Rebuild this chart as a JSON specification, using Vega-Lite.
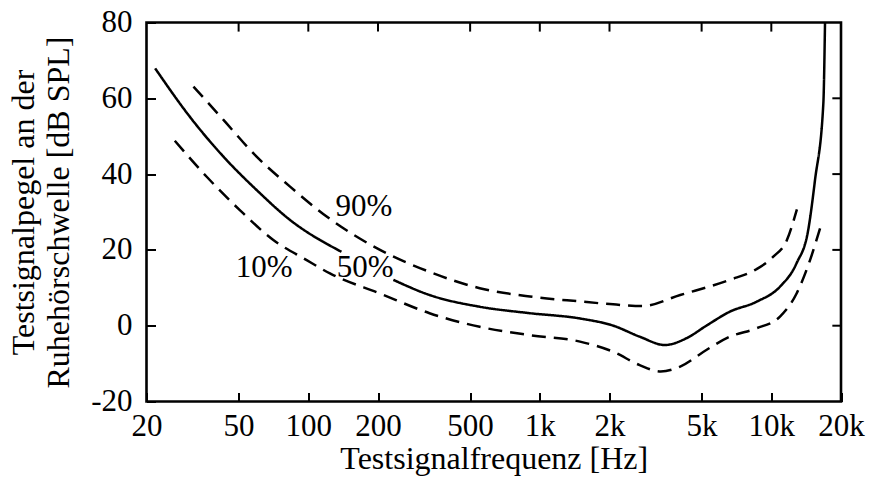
{
  "$schema": "https://vega.github.io/schema/vega-lite/v6.json",
  "width": 694.5,
  "height": 379,
  "autosize": {"type": "none"},
  "padding": {"left": 146.5, "top": 22.5, "right": 28, "bottom": 82.5},
  "background": "white",
  "config": {
    "font": "Liberation Serif",
    "view": {"stroke": "black", "strokeWidth": 2.6},
    "axis": {"labelFont": "Liberation Serif", "titleFont": "Liberation Serif", "labelColor": "black", "titleColor": "black", "labelFontSize": 31, "titleFontSize": 32, "titleFontWeight": "normal", "grid": false, "domain": false}
  },
  "datasets": {
    "curves": [
      {"f": 21.8, "y": 67.9, "seg": "50a"},
      {"f": 30.8, "y": 55.1, "seg": "50a"},
      {"f": 43, "y": 44.6, "seg": "50a"},
      {"f": 59.8, "y": 35.8, "seg": "50a"},
      {"f": 83.4, "y": 27.9, "seg": "50a"},
      {"f": 139, "y": 19.5, "seg": "50a"},
      {"f": 233, "y": 12.1, "seg": "50b"},
      {"f": 334, "y": 8.1, "seg": "50b"},
      {"f": 550, "y": 5.0, "seg": "50b"},
      {"f": 906, "y": 3.3, "seg": "50b"},
      {"f": 1492, "y": 1.9, "seg": "50b"},
      {"f": 2078, "y": 0.0, "seg": "50b"},
      {"f": 2700, "y": -2.9, "seg": "50b"},
      {"f": 3476, "y": -5.1, "seg": "50b"},
      {"f": 4300, "y": -3.3, "seg": "50b"},
      {"f": 5240, "y": 0.0, "seg": "50b"},
      {"f": 6620, "y": 3.7, "seg": "50b"},
      {"f": 8620, "y": 6.3, "seg": "50b"},
      {"f": 10900, "y": 10.3, "seg": "50b"},
      {"f": 12860, "y": 16.5, "seg": "50b"},
      {"f": 14440, "y": 25.3, "seg": "50b"},
      {"f": 15440, "y": 38.4, "seg": "50b"},
      {"f": 16780, "y": 58.7, "seg": "50b"},
      {"f": 17060, "y": 80, "seg": "50b"},
      {"f": 31.9, "y": 63.1, "seg": "90"},
      {"f": 43, "y": 54.3, "seg": "90"},
      {"f": 59.8, "y": 44.6, "seg": "90"},
      {"f": 83.4, "y": 36.7, "seg": "90"},
      {"f": 120, "y": 28.8, "seg": "90"},
      {"f": 204, "y": 20.0, "seg": "90"},
      {"f": 334, "y": 14.2, "seg": "90"},
      {"f": 550, "y": 9.9, "seg": "90"},
      {"f": 906, "y": 7.7, "seg": "90"},
      {"f": 1492, "y": 6.4, "seg": "90"},
      {"f": 2008, "y": 5.7, "seg": "90"},
      {"f": 2790, "y": 5.2, "seg": "90"},
      {"f": 4040, "y": 8.1, "seg": "90"},
      {"f": 6620, "y": 12.1, "seg": "90"},
      {"f": 8620, "y": 14.9, "seg": "90"},
      {"f": 10200, "y": 18.2, "seg": "90"},
      {"f": 11680, "y": 22.6, "seg": "90"},
      {"f": 12900, "y": 30.7, "seg": "90"},
      {"f": 26.5, "y": 48.8, "seg": "10"},
      {"f": 36.4, "y": 39.3, "seg": "10"},
      {"f": 50.6, "y": 30.5, "seg": "10"},
      {"f": 70.6, "y": 22.6, "seg": "10"},
      {"f": 98.4, "y": 17.3, "seg": "10"},
      {"f": 124, "y": 13.8, "seg": "10"},
      {"f": 204, "y": 8.5, "seg": "10"},
      {"f": 334, "y": 3.3, "seg": "10"},
      {"f": 550, "y": -0.3, "seg": "10"},
      {"f": 906, "y": -2.5, "seg": "10"},
      {"f": 1492, "y": -4.2, "seg": "10"},
      {"f": 2078, "y": -6.9, "seg": "10"},
      {"f": 2700, "y": -10.4, "seg": "10"},
      {"f": 3330, "y": -12.1, "seg": "10"},
      {"f": 4040, "y": -10.8, "seg": "10"},
      {"f": 5240, "y": -6.4, "seg": "10"},
      {"f": 6620, "y": -2.9, "seg": "10"},
      {"f": 8620, "y": -0.7, "seg": "10"},
      {"f": 10900, "y": 2.4, "seg": "10"},
      {"f": 12860, "y": 8.5, "seg": "10"},
      {"f": 14700, "y": 17.3, "seg": "10"},
      {"f": 16240, "y": 25.7, "seg": "10"}
    ],
    "labels": [
      {"f": 174, "y": 31.3, "label": "90%"},
      {"f": 176, "y": 15.1, "label": "50%"},
      {"f": 64.4, "y": 15.1, "label": "10%"}
    ],
    "xticks": [{"f": 50}, {"f": 100}, {"f": 200}, {"f": 500}, {"f": 1000}, {"f": 2000}, {"f": 5000}, {"f": 10000}],
    "yticks": [{"y": 0}, {"y": 20}, {"y": 40}, {"y": 60}]
  },
  "layer": [
    {
      "data": {"name": "curves"},
      "mark": {"type": "line", "interpolate": "monotone", "color": "black", "strokeWidth": 2.5, "clip": true},
      "encoding": {
        "x": {"field": "f", "type": "quantitative",
          "scale": {"type": "log", "domain": [20, 20000], "nice": false},
          "axis": {"orient": "bottom", "values": [20, 50, 100, 200, 500, 1000, 2000, 5000, 10000, 20000],
            "ticks": true, "tickSize": -9, "tickWidth": 2, "tickColor": "black",
            "labelExpr": "datum.value >= 1000 ? (datum.value / 1000) + 'k' : '' + datum.value",
            "labelPadding": 19, "labelFlush": false, "labelOverlap": false,
            "title": "Testsignalfrequenz [Hz]", "titlePadding": 2}},
        "y": {"field": "y", "type": "quantitative",
          "scale": {"domain": [-20, 80], "nice": false, "zero": false},
          "axis": {"orient": "left", "values": [-20, 0, 20, 40, 60, 80],
            "ticks": true, "tickSize": -9, "tickWidth": 2, "tickColor": "black",
            "labelPadding": 23.5,
            "labelExpr": "'' + datum.value",
            "title": ["Testsignalpegel an der", "Ruhehörschwelle [dB SPL]"], "titleLineHeight": 35, "titlePadding": 15}},
        "detail": {"field": "seg"},
        "strokeDash": {"field": "seg", "type": "nominal",
          "scale": {"domain": ["50a", "50b", "90", "10"], "range": [[1, 0], [1, 0], [14, 8], [14, 8]]},
          "legend": null}
      }
    },
    {
      "mark": {"type": "rule", "strokeDash": [1, 1], "strokeWidth": 1, "color": "black"},
      "encoding": {"y": {"datum": 0, "type": "quantitative"}}
    },
    {
      "data": {"name": "xticks"},
      "mark": {"type": "rule", "color": "black", "strokeWidth": 2},
      "encoding": {"x": {"field": "f", "type": "quantitative"}, "y": {"datum": 80, "type": "quantitative"}, "y2": {"datum": 77.6}}
    },
    {
      "data": {"name": "yticks"},
      "mark": {"type": "rule", "color": "black", "strokeWidth": 2},
      "encoding": {"y": {"field": "y", "type": "quantitative"}, "x": {"datum": 20000, "type": "quantitative"}, "x2": {"datum": 18350}}
    },
    {
      "data": {"name": "labels"},
      "mark": {"type": "text", "font": "Liberation Serif", "fontSize": 31, "color": "black", "align": "center", "baseline": "middle"},
      "encoding": {
        "x": {"field": "f", "type": "quantitative"},
        "y": {"field": "y", "type": "quantitative"},
        "text": {"field": "label"}
      }
    }
  ]
}
